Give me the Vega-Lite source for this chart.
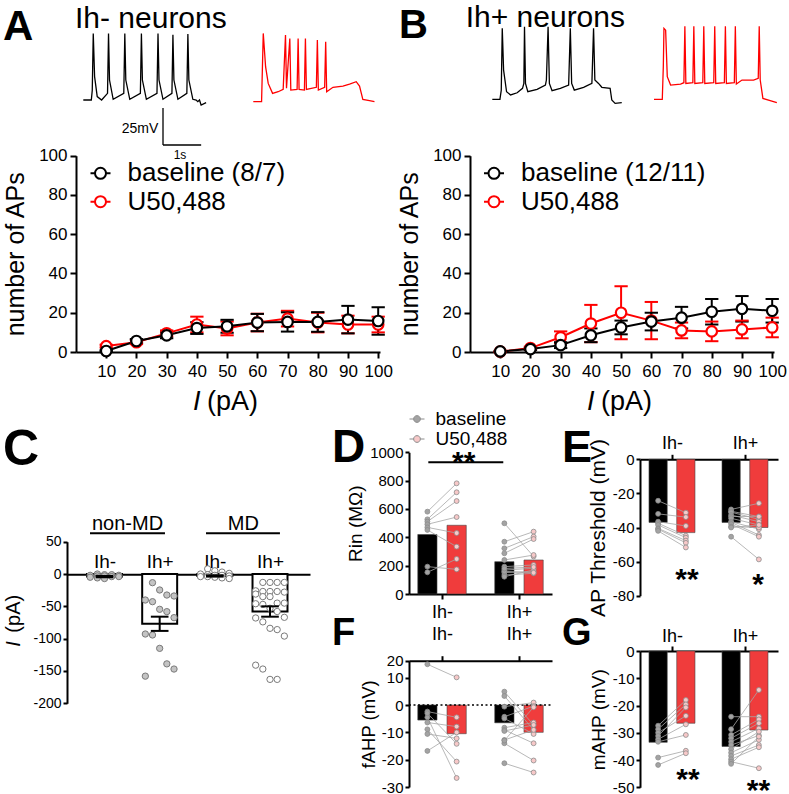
{
"$schema":"https://vega.github.io/schema/vega-lite/v6.json",
"width":789,"height":794,"autosize":{"type":"none"},"padding":0,"background":"white",
"config":{
 "font":"Liberation Sans",
 "view":{"stroke":null},
 "axis":{"grid":false,"domainColor":"black","tickColor":"black","labelColor":"black","titleColor":"black","domainWidth":2,"tickWidth":2,"labelFont":"Liberation Sans","titleFont":"Liberation Sans","titleFontWeight":"normal","labelFlush":false,"labelOverlap":false},
 "legend":{"padding":0,"labelFont":"Liberation Sans","labelColor":"black","labelLimit":400},
 "text":{"color":"black","font":"Liberation Sans"}
},
"datasets":{
 "trA0":[{"t":0,"v":-64.6},{"t":210,"v":-64.6},{"t":235,"v":-58},{"t":261,"v":-19.6},{"t":296,"v":-48.8},{"t":365,"v":-62.3},{"t":480,"v":-64.6},{"t":635,"v":-60.1},{"t":661,"v":-19.6},{"t":687,"v":-51.1},{"t":783,"v":-64.1},{"t":1061,"v":-60.1},{"t":1088,"v":-19.6},{"t":1114,"v":-51.1},{"t":1218,"v":-64.1},{"t":1496,"v":-60.1},{"t":1523,"v":-19.6},{"t":1549,"v":-51.1},{"t":1653,"v":-64.1},{"t":1931,"v":-60.1},{"t":1958,"v":-19.6},{"t":1984,"v":-51.1},{"t":2088,"v":-64.1},{"t":2323,"v":-60.1},{"t":2349,"v":-20.5},{"t":2375,"v":-51.1},{"t":2480,"v":-64.1},{"t":2714,"v":-60.1},{"t":2741,"v":-20},{"t":2767,"v":-51.1},{"t":2871,"v":-64.1},{"t":2958,"v":-64.6},{"t":3001,"v":-65.7},{"t":3045,"v":-64.6},{"t":3088,"v":-68},{"t":3219,"v":-66.4}],
 "trA1":[{"t":0,"v":-65.7},{"t":217,"v":-65.7},{"t":261,"v":-19.6},{"t":322,"v":-42.1},{"t":391,"v":-53.4},{"t":505,"v":-60.1},{"t":652,"v":-59},{"t":783,"v":-57.4},{"t":844,"v":-20.7},{"t":870,"v":-56.7},{"t":957,"v":-23},{"t":983,"v":-57.9},{"t":1148,"v":-57.4},{"t":1175,"v":-23},{"t":1200,"v":-57.4},{"t":1340,"v":-57.9},{"t":1366,"v":-23},{"t":1392,"v":-57.4},{"t":1653,"v":-56},{"t":1679,"v":-24.1},{"t":1705,"v":-57.9},{"t":1870,"v":-56},{"t":1897,"v":-25.2},{"t":1923,"v":-59},{"t":2088,"v":-56},{"t":2349,"v":-55.2},{"t":2523,"v":-53.8},{"t":2697,"v":-52.2},{"t":2784,"v":-55.2},{"t":2871,"v":-64.2},{"t":3045,"v":-65},{"t":3176,"v":-65.7}],
 "trB0":[{"t":0,"v":-64.2},{"t":200,"v":-64.2},{"t":235,"v":-57.9},{"t":261,"v":-16.2},{"t":296,"v":-44.4},{"t":374,"v":-59},{"t":479,"v":-61.2},{"t":652,"v":-59.7},{"t":792,"v":-56.7},{"t":827,"v":-53.4},{"t":844,"v":-15.1},{"t":870,"v":-53.4},{"t":931,"v":-59},{"t":1174,"v":-57.4},{"t":1392,"v":-54.5},{"t":1418,"v":-51.1},{"t":1462,"v":-15.1},{"t":1496,"v":-53.4},{"t":1566,"v":-58.3},{"t":1784,"v":-56.7},{"t":2001,"v":-54.5},{"t":2045,"v":-16.2},{"t":2080,"v":-53.4},{"t":2149,"v":-57.9},{"t":2393,"v":-56},{"t":2610,"v":-53.4},{"t":2654,"v":-16.2},{"t":2688,"v":-51.1},{"t":2784,"v":-53.4},{"t":2871,"v":-56},{"t":3088,"v":-56.7},{"t":3132,"v":-64.6},{"t":3219,"v":-66.9},{"t":3393,"v":-66.4}],
 "trB1":[{"t":0,"v":-64.2},{"t":217,"v":-64.2},{"t":244,"v":-42.1},{"t":261,"v":-16.2},{"t":305,"v":-17.4},{"t":348,"v":-48.8},{"t":435,"v":-54.5},{"t":696,"v":-53.8},{"t":783,"v":-52.9},{"t":809,"v":-14.7},{"t":835,"v":-53.4},{"t":1018,"v":-52.9},{"t":1044,"v":-14.7},{"t":1070,"v":-53.4},{"t":1279,"v":-52.9},{"t":1305,"v":-14.7},{"t":1331,"v":-53.4},{"t":1566,"v":-52.9},{"t":1592,"v":-14.7},{"t":1618,"v":-53.4},{"t":1844,"v":-52.9},{"t":1871,"v":-14.7},{"t":1897,"v":-53.4},{"t":2105,"v":-52.9},{"t":2132,"v":-14.7},{"t":2158,"v":-53.8},{"t":2306,"v":-51.1},{"t":2610,"v":-51.1},{"t":2732,"v":-50},{"t":2758,"v":-14.7},{"t":2784,"v":-51.1},{"t":2854,"v":-63.5},{"t":3045,"v":-65},{"t":3219,"v":-66.4}],
 "apA":[{"I":10,"cond":"U50,488","m":3,"s":0.7},{"I":20,"cond":"U50,488","m":5,"s":1},{"I":30,"cond":"U50,488","m":9.5,"s":1.5},{"I":40,"cond":"U50,488","m":14,"s":4},{"I":50,"cond":"U50,488","m":12,"s":3.5},{"I":60,"cond":"U50,488","m":15,"s":4.5},{"I":70,"cond":"U50,488","m":17,"s":4},{"I":80,"cond":"U50,488","m":15,"s":5},{"I":90,"cond":"U50,488","m":14,"s":4.5},{"I":100,"cond":"U50,488","m":14,"s":4},
  {"I":10,"cond":"baseline","m":0.5,"s":0.4},{"I":20,"cond":"baseline","m":5.6,"s":1},{"I":30,"cond":"baseline","m":8.5,"s":1.5},{"I":40,"cond":"baseline","m":12.2,"s":3},{"I":50,"cond":"baseline","m":13.1,"s":3.3},{"I":60,"cond":"baseline","m":15,"s":4.4},{"I":70,"cond":"baseline","m":15.3,"s":4.9},{"I":80,"cond":"baseline","m":15.3,"s":5},{"I":90,"cond":"baseline","m":16.5,"s":7},{"I":100,"cond":"baseline","m":15.8,"s":7}],
 "apB":[{"I":10,"cond":"U50,488","m":0.2,"s":0.2},{"I":20,"cond":"U50,488","m":2,"s":0.7},{"I":30,"cond":"U50,488","m":7.5,"s":3},{"I":40,"cond":"U50,488","m":14.5,"s":9.5},{"I":50,"cond":"U50,488","m":20,"s":13.5},{"I":60,"cond":"U50,488","m":16,"s":9.5},{"I":70,"cond":"U50,488","m":11,"s":4},{"I":80,"cond":"U50,488","m":10.5,"s":5},{"I":90,"cond":"U50,488","m":11.5,"s":4.5},{"I":100,"cond":"U50,488","m":12.5,"s":5},
  {"I":10,"cond":"baseline","m":0.3,"s":0.3},{"I":20,"cond":"baseline","m":1.5,"s":0.5},{"I":30,"cond":"baseline","m":3.5,"s":1.5},{"I":40,"cond":"baseline","m":8.5,"s":3.5},{"I":50,"cond":"baseline","m":12.5,"s":3.5},{"I":60,"cond":"baseline","m":15.5,"s":4.5},{"I":70,"cond":"baseline","m":17.5,"s":5.5},{"I":80,"cond":"baseline","m":20.5,"s":6.5},{"I":90,"cond":"baseline","m":22,"s":6.5},{"I":100,"cond":"baseline","m":21,"s":6}],
 "cbar":[{"g":1,"m":-4,"s":1},{"g":2,"m":-77,"s":11},{"g":3,"m":-3,"s":1},{"g":4,"m":-58,"s":8}],
 "cpts":[{"g":1,"v":0},{"g":1,"v":-1},{"g":1,"v":-1},{"g":1,"v":-2},{"g":1,"v":-2},{"g":1,"v":-3},{"g":1,"v":-3},{"g":1,"v":-4},{"g":1,"v":-4},{"g":1,"v":-5},{"g":1,"v":-6},{"g":1,"v":-7},
  {"g":2,"v":-13.4},{"g":2,"v":-24.7},{"g":2,"v":-32.5},{"g":2,"v":-34},{"g":2,"v":-40.2},{"g":2,"v":-42.8},{"g":2,"v":-54.6},{"g":2,"v":-58.2},{"g":2,"v":-67.5},{"g":2,"v":-92.8},{"g":2,"v":-94.3},{"g":2,"v":-115},{"g":2,"v":-139},{"g":2,"v":-147},{"g":2,"v":-158},
  {"g":3,"v":8},{"g":3,"v":5},{"g":3,"v":3},{"g":3,"v":1},{"g":3,"v":0},{"g":3,"v":-1},{"g":3,"v":-2},{"g":3,"v":-2},{"g":3,"v":-3},{"g":3,"v":-4},{"g":3,"v":-4},{"g":3,"v":-5},{"g":3,"v":-6},{"g":3,"v":-7},
  {"g":4,"v":-13},{"g":4,"v":-13},{"g":4,"v":-13},{"g":4,"v":-13},{"g":4,"v":-26},{"g":4,"v":-27},{"g":4,"v":-27},{"g":4,"v":-27},{"g":4,"v":-28},{"g":4,"v":-31},{"g":4,"v":-35},{"g":4,"v":-35},{"g":4,"v":-45},{"g":4,"v":-45},{"g":4,"v":-46},{"g":4,"v":-47},{"g":4,"v":-53},{"g":4,"v":-58},{"g":4,"v":-67},{"g":4,"v":-68},{"g":4,"v":-74},{"g":4,"v":-84},{"g":4,"v":-86},{"g":4,"v":-96},{"g":4,"v":-141},{"g":4,"v":-147},{"g":4,"v":-163},{"g":4,"v":-163}],
 "pbar":[{"p":"D","g":1,"b":420,"u":485},{"p":"D","g":2,"b":228,"u":240},{"p":"E","g":1,"b":-37,"u":-43},{"p":"E","g":2,"b":-37,"u":-40},{"p":"F","g":1,"b":-5.5,"u":-10.5},{"p":"F","g":2,"b":-6.5,"u":-10},{"p":"G","g":1,"b":-33.5,"u":-26.5},{"p":"G","g":2,"b":-35,"u":-29}],
 "pair":[
  {"p":"D","g":1,"c":1,"b":581,"u":781},{"p":"D","g":1,"c":2,"b":527,"u":718},{"p":"D","g":1,"c":3,"b":511,"u":656},{"p":"D","g":1,"c":4,"b":492,"u":543},{"p":"D","g":1,"c":5,"b":470,"u":430},{"p":"D","g":1,"c":6,"b":452,"u":334},{"p":"D","g":1,"c":7,"b":193,"u":174},{"p":"D","g":1,"c":8,"b":153,"u":247},
  {"p":"D","g":2,"c":1,"b":499,"u":265},{"p":"D","g":2,"c":2,"b":369,"u":440},{"p":"D","g":2,"c":3,"b":322,"u":405},{"p":"D","g":2,"c":4,"b":287,"u":388},{"p":"D","g":2,"c":5,"b":240,"u":275},{"p":"D","g":2,"c":6,"b":193,"u":205},{"p":"D","g":2,"c":7,"b":169,"u":181},{"p":"D","g":2,"c":8,"b":151,"u":158},{"p":"D","g":2,"c":9,"b":134,"u":146},{"p":"D","g":2,"c":10,"b":122,"u":170},{"p":"D","g":2,"c":11,"b":160,"u":150},{"p":"D","g":2,"c":12,"b":180,"u":190},
  {"p":"E","g":1,"c":1,"b":-24.3,"u":-31.3},{"p":"E","g":1,"c":2,"b":-32,"u":-33.9},{"p":"E","g":1,"c":3,"b":-36.6,"u":-39.1},{"p":"E","g":1,"c":4,"b":-37.5,"u":-44.8},{"p":"E","g":1,"c":5,"b":-38.5,"u":-46},{"p":"E","g":1,"c":6,"b":-40.5,"u":-47.7},{"p":"E","g":1,"c":7,"b":-41,"u":-49},{"p":"E","g":1,"c":8,"b":-42,"u":-51.7},
  {"p":"E","g":2,"c":1,"b":-29.4,"u":-25.8},{"p":"E","g":2,"c":2,"b":-30.5,"u":-33.6},{"p":"E","g":2,"c":3,"b":-31,"u":-35.2},{"p":"E","g":2,"c":4,"b":-32.7,"u":-36.6},{"p":"E","g":2,"c":5,"b":-33.5,"u":-33.6},{"p":"E","g":2,"c":6,"b":-34.6,"u":-38.5},{"p":"E","g":2,"c":7,"b":-36.6,"u":-41},{"p":"E","g":2,"c":8,"b":-37,"u":-44.4},{"p":"E","g":2,"c":9,"b":-38,"u":-45.4},{"p":"E","g":2,"c":10,"b":-39.5,"u":-40},{"p":"E","g":2,"c":11,"b":-40,"u":-38.5},{"p":"E","g":2,"c":12,"b":-45.4,"u":-58.7},
  {"p":"F","g":1,"c":1,"b":17.9,"u":10.2},{"p":"F","g":1,"c":2,"b":-2.4,"u":-4.5},{"p":"F","g":1,"c":3,"b":-4.5,"u":-26.7},{"p":"F","g":1,"c":4,"b":-6.4,"u":-7.9},{"p":"F","g":1,"c":5,"b":-8.9,"u":-20.7},{"p":"F","g":1,"c":6,"b":-10.6,"u":-12.2},{"p":"F","g":1,"c":7,"b":-16.8,"u":-10},{"p":"F","g":1,"c":8,"b":-3,"u":-14.2},
  {"p":"F","g":2,"c":1,"b":4.9,"u":-7.3},{"p":"F","g":2,"c":2,"b":3.3,"u":-9.1},{"p":"F","g":2,"c":3,"b":-0.6,"u":0.9},{"p":"F","g":2,"c":4,"b":-4.3,"u":-0.4},{"p":"F","g":2,"c":5,"b":-4.9,"u":-10.6},{"p":"F","g":2,"c":6,"b":-8.3,"u":-6.4},{"p":"F","g":2,"c":7,"b":-9.1,"u":-14},{"p":"F","g":2,"c":8,"b":-12.8,"u":-9.1},{"p":"F","g":2,"c":9,"b":-14,"u":-20.3},{"p":"F","g":2,"c":10,"b":-21.3,"u":-24.7},{"p":"F","g":2,"c":11,"b":-13,"u":-0.8},{"p":"F","g":2,"c":12,"b":-9.5,"u":-7.3},
  {"p":"G","g":1,"c":1,"b":-27.4,"u":-18},{"p":"G","g":1,"c":2,"b":-28.7,"u":-19.6},{"p":"G","g":1,"c":3,"b":-30,"u":-23.8},{"p":"G","g":1,"c":4,"b":-31.2,"u":-20.7},{"p":"G","g":1,"c":5,"b":-32.4,"u":-26.9},{"p":"G","g":1,"c":6,"b":-33.3,"u":-30.8},{"p":"G","g":1,"c":7,"b":-39.1,"u":-36.6},{"p":"G","g":1,"c":8,"b":-41.8,"u":-37.5},
  {"p":"G","g":2,"c":1,"b":-24.1,"u":-24.1},{"p":"G","g":2,"c":2,"b":-28.7,"u":-14.3},{"p":"G","g":2,"c":3,"b":-30.8,"u":-25.1},{"p":"G","g":2,"c":4,"b":-32,"u":-26.5},{"p":"G","g":2,"c":5,"b":-33.3,"u":-28.4},{"p":"G","g":2,"c":6,"b":-34.5,"u":-31},{"p":"G","g":2,"c":7,"b":-36,"u":-29.6},{"p":"G","g":2,"c":8,"b":-37.3,"u":-32.6},{"p":"G","g":2,"c":9,"b":-38.5,"u":-34.5},{"p":"G","g":2,"c":10,"b":-39.7,"u":-35.3},{"p":"G","g":2,"c":11,"b":-40.6,"u":-43},{"p":"G","g":2,"c":12,"b":-41.4,"u":-31.4}]
},
"resolve":{"scale":{"x":"independent","y":"independent","color":"independent","fill":"independent"},"axis":{"x":"independent","y":"independent"},"legend":{"color":"independent","fill":"independent"}},
"layer":[
 {"layer":[
  {"data":{"name":"trA0"},"mark":{"type":"line","color":"black","strokeWidth":1.3},"encoding":{"x":{"field":"t","type":"quantitative","scale":{"domain":[0,3250],"range":[83.3,207.3],"nice":false,"zero":false},"axis":null},"y":{"field":"v","type":"quantitative","scale":{"domain":[-70,-20],"range":[108,34],"nice":false,"zero":false},"axis":null}}},
  {"data":{"values":[{}]},"mark":{"type":"rule","color":"black","strokeWidth":1.3},"encoding":{"x":{"datum":2089,"type":"quantitative","axis":null},"y":{"datum":-70,"type":"quantitative","axis":null},"y2":{"datum":-95}}},
  {"data":{"values":[{}]},"mark":{"type":"rule","color":"black","strokeWidth":1.3},"encoding":{"x":{"datum":2089,"type":"quantitative","axis":null},"x2":{"datum":3089},"y":{"datum":-95,"type":"quantitative","axis":null}}},
  {"data":{"values":[{}]},"mark":{"type":"text","text":"A","fontSize":42,"fontWeight":"bold","align":"left","baseline":"alphabetic"},"encoding":{"x":{"datum":-2105,"type":"quantitative","axis":null},"y":{"datum":-24.1,"type":"quantitative","axis":null}}},
  {"data":{"values":[{}]},"mark":{"type":"text","text":"Ih- neurons","fontSize":30,"align":"left","baseline":"alphabetic"},"encoding":{"x":{"datum":-218,"type":"quantitative","axis":null},"y":{"datum":-15.95,"type":"quantitative","axis":null}}},
  {"data":{"values":[{}]},"mark":{"type":"text","text":"25mV","fontSize":14,"align":"right","baseline":"alphabetic"},"encoding":{"x":{"datum":1966,"type":"quantitative","axis":null},"y":{"datum":-86.9,"type":"quantitative","axis":null}}},
  {"data":{"values":[{}]},"mark":{"type":"text","text":"1s","fontSize":12,"align":"center","baseline":"alphabetic"},"encoding":{"x":{"datum":2535,"type":"quantitative","axis":null},"y":{"datum":-104.5,"type":"quantitative","axis":null}}}
 ]},
 {"data":{"name":"trA1"},"mark":{"type":"line","color":"#ff0000","strokeWidth":1.3},"encoding":{"x":{"field":"t","type":"quantitative","scale":{"domain":[0,3250],"range":[253.3,377.3],"nice":false,"zero":false},"axis":null},"y":{"field":"v","type":"quantitative","scale":{"domain":[-70,-20],"range":[108,34],"nice":false,"zero":false},"axis":null}}},
 {"layer":[
  {"data":{"name":"trB0"},"mark":{"type":"line","color":"black","strokeWidth":1.3},"encoding":{"x":{"field":"t","type":"quantitative","scale":{"domain":[0,3250],"range":[492.3,616.3],"nice":false,"zero":false},"axis":null},"y":{"field":"v","type":"quantitative","scale":{"domain":[-70,-20],"range":[108,34],"nice":false,"zero":false},"axis":null}}},
  {"data":{"values":[{}]},"mark":{"type":"text","text":"B","fontSize":40,"fontWeight":"bold","align":"left","baseline":"alphabetic"},"encoding":{"x":{"datum":-2446,"type":"quantitative","axis":null},"y":{"datum":-22.7,"type":"quantitative","axis":null}}},
  {"data":{"values":[{}]},"mark":{"type":"text","text":"Ih+ neurons","fontSize":30,"align":"left","baseline":"alphabetic"},"encoding":{"x":{"datum":-697,"type":"quantitative","axis":null},"y":{"datum":-15.3,"type":"quantitative","axis":null}}}
 ]},
 {"data":{"name":"trB1"},"mark":{"type":"line","color":"#ff0000","strokeWidth":1.3},"encoding":{"x":{"field":"t","type":"quantitative","scale":{"domain":[0,3250],"range":[654,778],"nice":false,"zero":false},"axis":null},"y":{"field":"v","type":"quantitative","scale":{"domain":[-70,-20],"range":[108,34],"nice":false,"zero":false},"axis":null}}},
 {"layer":[
  {"data":{"name":"apA"},"transform":[{"calculate":"datum.m - datum.s","as":"lo"},{"calculate":"datum.m + datum.s","as":"hi"}],"mark":{"type":"rule","strokeWidth":2},"encoding":{
    "x":{"field":"I","type":"quantitative","scale":{"domain":[0,100.6],"range":[76,380],"nice":false,"zero":false},"axis":{"orient":"bottom","offset":-442,"values":[10,20,30,40,50,60,70,80,90,100],"title":null,"labelFontSize":17,"tickSize":6,"labelPadding":5}},
    "y":{"field":"lo","type":"quantitative","scale":{"domain":[0,100],"range":[352,155.7],"nice":false,"zero":false},"axis":{"orient":"left","offset":-76,"values":[0,20,40,60,80,100],"title":"number of APs","titleFontSize":25,"titlePadding":10,"labelFontSize":17,"tickSize":6,"labelPadding":3}},
    "y2":{"field":"hi"},
    "color":{"field":"cond","type":"nominal","scale":{"domain":["baseline","U50,488"],"range":["black","#ff0000"]}}}},
  {"data":{"name":"apA"},"transform":[{"calculate":"datum.m - datum.s","as":"lo"},{"calculate":"datum.I - 2.2","as":"ca"},{"calculate":"datum.I + 2.2","as":"cb"}],"mark":{"type":"rule","strokeWidth":2},"encoding":{"x":{"field":"ca","type":"quantitative"},"x2":{"field":"cb"},"y":{"field":"lo","type":"quantitative"},"color":{"field":"cond","type":"nominal"}}},
  {"data":{"name":"apA"},"transform":[{"calculate":"datum.m + datum.s","as":"hi"},{"calculate":"datum.I - 2.2","as":"ca"},{"calculate":"datum.I + 2.2","as":"cb"}],"mark":{"type":"rule","strokeWidth":2},"encoding":{"x":{"field":"ca","type":"quantitative"},"x2":{"field":"cb"},"y":{"field":"hi","type":"quantitative"},"color":{"field":"cond","type":"nominal"}}},
  {"data":{"name":"apA"},"mark":{"type":"line","strokeWidth":2},"encoding":{"x":{"field":"I","type":"quantitative"},"y":{"field":"m","type":"quantitative"},"color":{"field":"cond","type":"nominal"}}},
  {"data":{"name":"apA"},"mark":{"type":"point","shape":"circle","filled":false,"fill":"white","size":110,"strokeWidth":2.2,"opacity":1},"encoding":{"x":{"field":"I","type":"quantitative"},"y":{"field":"m","type":"quantitative"},"color":{"field":"cond","type":"nominal","legend":{"orient":"none","legendX":87.5,"legendY":160.3,"title":null,"labelFontSize":26,"labelExpr":"datum.label == 'baseline' ? 'baseline (8/7)' : datum.label","symbolType":"M-1,0L-0.55,0M0.55,0L1,0M-0.55,0A0.55,0.55,0,1,1,0.55,0A0.55,0.55,0,1,1,-0.55,0Z","symbolSize":400,"symbolStrokeWidth":2,"symbolFillColor":"white","labelOffset":14,"rowPadding":2.4}}}},
  {"data":{"values":[{}]},"mark":{"type":"text","text":"I","fontSize":27,"fontStyle":"italic","align":"left","baseline":"alphabetic"},"encoding":{"x":{"datum":38.7,"type":"quantitative"},"y":{"datum":-29.4,"type":"quantitative"}}},
  {"data":{"values":[{}]},"mark":{"type":"text","text":"(pA)","fontSize":27,"align":"left","baseline":"alphabetic"},"encoding":{"x":{"datum":43.35,"type":"quantitative"},"y":{"datum":-29.4,"type":"quantitative"}}}
 ]},
 {"layer":[
  {"data":{"name":"apB"},"transform":[{"calculate":"datum.m - datum.s","as":"lo"},{"calculate":"datum.m + datum.s","as":"hi"}],"mark":{"type":"rule","strokeWidth":2},"encoding":{
    "x":{"field":"I","type":"quantitative","scale":{"domain":[0,100.6],"range":[470,774],"nice":false,"zero":false},"axis":{"orient":"bottom","offset":-442,"values":[10,20,30,40,50,60,70,80,90,100],"title":null,"labelFontSize":17,"tickSize":6,"labelPadding":5}},
    "y":{"field":"lo","type":"quantitative","scale":{"domain":[0,100],"range":[352,155.7],"nice":false,"zero":false},"axis":{"orient":"left","offset":-470,"values":[0,20,40,60,80,100],"title":"number of APs","titleFontSize":25,"titlePadding":10,"labelFontSize":17,"tickSize":6,"labelPadding":3}},
    "y2":{"field":"hi"},
    "color":{"field":"cond","type":"nominal","scale":{"domain":["baseline","U50,488"],"range":["black","#ff0000"]}}}},
  {"data":{"name":"apB"},"transform":[{"calculate":"datum.m - datum.s","as":"lo"},{"calculate":"datum.I - 2.2","as":"ca"},{"calculate":"datum.I + 2.2","as":"cb"}],"mark":{"type":"rule","strokeWidth":2},"encoding":{"x":{"field":"ca","type":"quantitative"},"x2":{"field":"cb"},"y":{"field":"lo","type":"quantitative"},"color":{"field":"cond","type":"nominal"}}},
  {"data":{"name":"apB"},"transform":[{"calculate":"datum.m + datum.s","as":"hi"},{"calculate":"datum.I - 2.2","as":"ca"},{"calculate":"datum.I + 2.2","as":"cb"}],"mark":{"type":"rule","strokeWidth":2},"encoding":{"x":{"field":"ca","type":"quantitative"},"x2":{"field":"cb"},"y":{"field":"hi","type":"quantitative"},"color":{"field":"cond","type":"nominal"}}},
  {"data":{"name":"apB"},"mark":{"type":"line","strokeWidth":2},"encoding":{"x":{"field":"I","type":"quantitative"},"y":{"field":"m","type":"quantitative"},"color":{"field":"cond","type":"nominal"}}},
  {"data":{"name":"apB"},"mark":{"type":"point","shape":"circle","filled":false,"fill":"white","size":110,"strokeWidth":2.2,"opacity":1},"encoding":{"x":{"field":"I","type":"quantitative"},"y":{"field":"m","type":"quantitative"},"color":{"field":"cond","type":"nominal","legend":{"orient":"none","legendX":481,"legendY":160.3,"title":null,"labelFontSize":26,"labelExpr":"datum.label == 'baseline' ? 'baseline (12/11)' : datum.label","symbolType":"M-1,0L-0.55,0M0.55,0L1,0M-0.55,0A0.55,0.55,0,1,1,0.55,0A0.55,0.55,0,1,1,-0.55,0Z","symbolSize":400,"symbolStrokeWidth":2,"symbolFillColor":"white","labelOffset":14,"rowPadding":2.4}}}},
  {"data":{"values":[{}]},"mark":{"type":"text","text":"I","fontSize":27,"fontStyle":"italic","align":"left","baseline":"alphabetic"},"encoding":{"x":{"datum":38.7,"type":"quantitative"},"y":{"datum":-29.4,"type":"quantitative"}}},
  {"data":{"values":[{}]},"mark":{"type":"text","text":"(pA)","fontSize":27,"align":"left","baseline":"alphabetic"},"encoding":{"x":{"datum":43.35,"type":"quantitative"},"y":{"datum":-29.4,"type":"quantitative"}}}
 ]},
 {"layer":[
  {"data":{"name":"cbar"},"transform":[{"calculate":"datum.g - 0.317","as":"xa"},{"calculate":"datum.g + 0.317","as":"xb"}],"mark":{"type":"rect","fill":"white","stroke":"black","strokeWidth":2},"encoding":{
    "x":{"field":"xa","type":"quantitative","scale":{"domain":[0.32,4.725],"range":[67,310],"nice":false,"zero":false},"axis":{"orient":"top","offset":-574.2,"ticks":false,"values":[1,2,3,4],"labelExpr":"(datum.value == 1 || datum.value == 3) ? 'Ih-' : 'Ih+'","title":null,"labelFontSize":19,"labelPadding":3}},
    "x2":{"field":"xb"},
    "y":{"field":"m","type":"quantitative","scale":{"domain":[-200,50],"range":[703.3,541.7],"nice":false,"zero":false},"axis":{"orient":"left","offset":-67,"values":[50,0,-50,-100,-150,-200],"labelExpr":"'' + datum.value","title":null,"labelFontSize":14,"tickSize":4,"labelPadding":2}},
    "y2":{"datum":0}}},
  {"data":{"name":"cpts"},"transform":[{"window":[{"op":"row_number","as":"rn"}],"groupby":["g"]},{"calculate":"datum.g + ((datum.rn % 5) - 2) * 0.13","as":"xj"}],"mark":{"type":"point","shape":"circle","filled":true,"size":40,"stroke":"#7a7a7a","strokeWidth":1,"opacity":1},"encoding":{"x":{"field":"xj","type":"quantitative"},"y":{"field":"v","type":"quantitative"},"fill":{"condition":{"test":"datum.g <= 2","value":"#c4c4c4"},"value":"white"}}},
  {"data":{"name":"cbar"},"transform":[{"calculate":"datum.m - datum.s","as":"lo"},{"calculate":"datum.m + datum.s","as":"hi"}],"mark":{"type":"rule","color":"black","strokeWidth":2},"encoding":{"x":{"field":"g","type":"quantitative"},"y":{"field":"lo","type":"quantitative"},"y2":{"field":"hi"}}},
  {"data":{"name":"cbar"},"transform":[{"calculate":"datum.m - datum.s","as":"lo"},{"calculate":"datum.g - 0.16","as":"ca"},{"calculate":"datum.g + 0.16","as":"cb"}],"mark":{"type":"rule","color":"black","strokeWidth":2},"encoding":{"x":{"field":"ca","type":"quantitative"},"x2":{"field":"cb"},"y":{"field":"lo","type":"quantitative"}}},
  {"data":{"name":"cbar"},"transform":[{"calculate":"datum.m + datum.s","as":"hi"},{"calculate":"datum.g - 0.16","as":"ca"},{"calculate":"datum.g + 0.16","as":"cb"}],"mark":{"type":"rule","color":"black","strokeWidth":2},"encoding":{"x":{"field":"ca","type":"quantitative"},"x2":{"field":"cb"},"y":{"field":"hi","type":"quantitative"}}},
  {"data":{"values":[{}]},"mark":{"type":"text","text":"C","fontSize":50,"fontWeight":"bold","align":"left","baseline":"alphabetic"},"encoding":{"x":{"datum":-0.84,"type":"quantitative"},"y":{"datum":168.9,"type":"quantitative"}}},
  {"data":{"values":[{}]},"mark":{"type":"text","text":"I","fontSize":20,"fontStyle":"italic","angle":270,"align":"left","baseline":"alphabetic"},"encoding":{"x":{"datum":-0.532,"type":"quantitative"},"y":{"datum":-112.6,"type":"quantitative"}}},
  {"data":{"values":[{}]},"mark":{"type":"text","text":"(pA)","fontSize":20,"angle":270,"align":"right","baseline":"alphabetic"},"encoding":{"x":{"datum":-0.532,"type":"quantitative"},"y":{"datum":-32.2,"type":"quantitative"}}},
  {"data":{"values":[{}]},"mark":{"type":"text","text":"non-MD","fontSize":20,"align":"center","baseline":"alphabetic"},"encoding":{"x":{"datum":1.417,"type":"quantitative"},"y":{"datum":68.3,"type":"quantitative"}}},
  {"data":{"values":[{}]},"mark":{"type":"text","text":"MD","fontSize":20,"align":"center","baseline":"alphabetic"},"encoding":{"x":{"datum":3.516,"type":"quantitative"},"y":{"datum":68.3,"type":"quantitative"}}},
  {"data":{"values":[{}]},"mark":{"type":"rule","color":"black","strokeWidth":2},"encoding":{"x":{"datum":0.737,"type":"quantitative"},"x2":{"datum":2.096},"y":{"datum":63.2,"type":"quantitative"}}},
  {"data":{"values":[{}]},"mark":{"type":"rule","color":"black","strokeWidth":2},"encoding":{"x":{"datum":2.84,"type":"quantitative"},"x2":{"datum":4.18},"y":{"datum":63.2,"type":"quantitative"}}}
 ]},
 {"layer":[
  {"data":{"name":"pbar"},"transform":[{"filter":"datum.p == 'D'"},{"fold":["b","u"],"as":["k","m"]},{"calculate":"datum.g + (datum.k == 'b' ? -0.19 : 0.19)","as":"xp"},{"calculate":"datum.xp - 0.125","as":"xa"},{"calculate":"datum.xp + 0.125","as":"xb"}],"mark":{"type":"rect","stroke":"#444444","strokeWidth":0.6},"encoding":{
    "x":{"field":"xa","type":"quantitative","scale":{"domain":[0.571,2.429],"range":[409,552],"nice":false,"zero":false},"axis":{"orient":"bottom","offset":-200,"values":[1,2],"labelExpr":"datum.value == 1 ? 'Ih-' : 'Ih+'","title":null,"labelFontSize":18,"tickSize":5,"labelPadding":4}},
    "x2":{"field":"xb"},
    "y":{"field":"m","type":"quantitative","scale":{"domain":[0,1000],"range":[594,452.3],"nice":false,"zero":false},"axis":{"orient":"left","offset":-409,"values":[0,200,400,600,800,1000],"labelExpr":"'' + datum.value","title":"Rin (MΩ)","titleFontSize":19,"titlePadding":4,"labelFontSize":15,"tickSize":4,"labelPadding":2}},
    "y2":{"datum":0},
    "fill":{"condition":{"test":"datum.k == 'b'","value":"black"},"value":"#f03c3c"}}},
  {"data":{"name":"pair"},"transform":[{"filter":"datum.p == 'D'"},{"fold":["b","u"],"as":["k","v"]},{"calculate":"datum.g + (datum.k == 'b' ? -0.19 : 0.19)","as":"xp"}],"mark":{"type":"line","stroke":"#a6a6a6","strokeWidth":0.8},"encoding":{"x":{"field":"xp","type":"quantitative"},"y":{"field":"v","type":"quantitative"},"detail":[{"field":"g"},{"field":"c"}]}},
  {"data":{"name":"pair"},"transform":[{"filter":"datum.p == 'D'"},{"fold":["b","u"],"as":["k","v"]},{"calculate":"datum.g + (datum.k == 'b' ? -0.19 : 0.19)","as":"xp"}],"mark":{"type":"point","shape":"circle","filled":true,"size":24,"stroke":"#8c8c8c","strokeWidth":0.8,"opacity":1},"encoding":{"x":{"field":"xp","type":"quantitative"},"y":{"field":"v","type":"quantitative"},"fill":{"field":"k","type":"nominal","scale":{"domain":["b","u"],"range":["#a3a3a3","#f7c8c8"]},"legend":{"orient":"none","legendX":407.5,"legendY":409.5,"title":null,"labelFontSize":19,"labelExpr":"datum.label == 'b' ? 'baseline' : 'U50,488'","symbolType":"M-1,0L-0.45,0M0.45,0L1,0M-0.45,0A0.45,0.45,0,1,1,0.45,0A0.45,0.45,0,1,1,-0.45,0Z","symbolSize":225,"symbolStrokeColor":"#8c8c8c","symbolStrokeWidth":1,"labelOffset":9,"rowPadding":-1}}}},
  {"data":{"values":[{}]},"mark":{"type":"text","text":"D","fontSize":46,"fontWeight":"bold","align":"left","baseline":"alphabetic"},"encoding":{"x":{"datum":-0.429,"type":"quantitative"},"y":{"datum":933.7,"type":"quantitative"}}},
  {"data":{"values":[{}]},"mark":{"type":"text","text":"F","fontSize":38,"fontWeight":"bold","align":"left","baseline":"alphabetic"},"encoding":{"x":{"datum":-0.429,"type":"quantitative"},"y":{"datum":-360,"type":"quantitative"}}},
  {"data":{"values":[{}]},"mark":{"type":"text","text":"**","fontSize":30,"fontWeight":"bold","align":"center","baseline":"alphabetic"},"encoding":{"x":{"datum":1.281,"type":"quantitative"},"y":{"datum":858,"type":"quantitative"}}},
  {"data":{"values":[{}]},"mark":{"type":"rule","color":"black","strokeWidth":2},"encoding":{"x":{"datum":0.822,"type":"quantitative"},"x2":{"datum":1.796},"y":{"datum":929,"type":"quantitative"}}}
 ]},
 {"layer":[
  {"data":{"name":"pbar"},"transform":[{"filter":"datum.p == 'F'"},{"fold":["b","u"],"as":["k","m"]},{"calculate":"datum.g + (datum.k == 'b' ? -0.19 : 0.19)","as":"xp"},{"calculate":"datum.xp - 0.125","as":"xa"},{"calculate":"datum.xp + 0.125","as":"xb"}],"mark":{"type":"rect","stroke":"#444444","strokeWidth":0.6},"encoding":{
    "x":{"field":"xa","type":"quantitative","scale":{"domain":[0.571,2.429],"range":[409,552],"nice":false,"zero":false},"axis":{"orient":"top","offset":-660.7,"values":[1,2],"labelExpr":"datum.value == 1 ? 'Ih-' : 'Ih+'","title":null,"labelFontSize":18,"tickSize":5,"labelPadding":12}},
    "x2":{"field":"xb"},
    "y":{"field":"m","type":"quantitative","scale":{"domain":[-30,10,20],"range":[787,677.7,660.7],"nice":false,"zero":false},"axis":{"orient":"left","offset":-409,"values":[20,10,0,-10,-20,-30],"labelExpr":"'' + datum.value","title":"fAHP (mV)","titleFontSize":18.5,"titlePadding":3,"labelFontSize":15,"tickSize":4,"labelPadding":2}},
    "y2":{"datum":0},
    "fill":{"condition":{"test":"datum.k == 'b'","value":"black"},"value":"#f03c3c"}}},
  {"data":{"values":[{}]},"mark":{"type":"rule","color":"black","strokeWidth":1.5,"strokeDash":[2,2.5]},"encoding":{"x":{"datum":0.571,"type":"quantitative"},"x2":{"datum":2.429},"y":{"datum":0,"type":"quantitative"}}},
  {"data":{"name":"pair"},"transform":[{"filter":"datum.p == 'F'"},{"fold":["b","u"],"as":["k","v"]},{"calculate":"datum.g + (datum.k == 'b' ? -0.19 : 0.19)","as":"xp"}],"mark":{"type":"line","stroke":"#a6a6a6","strokeWidth":0.8},"encoding":{"x":{"field":"xp","type":"quantitative"},"y":{"field":"v","type":"quantitative"},"detail":[{"field":"g"},{"field":"c"}]}},
  {"data":{"name":"pair"},"transform":[{"filter":"datum.p == 'F'"},{"fold":["b","u"],"as":["k","v"]},{"calculate":"datum.g + (datum.k == 'b' ? -0.19 : 0.19)","as":"xp"}],"mark":{"type":"point","shape":"circle","filled":true,"size":24,"stroke":"#8c8c8c","strokeWidth":0.8,"opacity":1},"encoding":{"x":{"field":"xp","type":"quantitative"},"y":{"field":"v","type":"quantitative"},"fill":{"field":"k","type":"nominal","scale":{"domain":["b","u"],"range":["#a3a3a3","#f7c8c8"]},"legend":null}}}
 ]},
 {"layer":[
  {"data":{"name":"pbar"},"transform":[{"filter":"datum.p == 'E'"},{"fold":["b","u"],"as":["k","m"]},{"calculate":"datum.g + (datum.k == 'b' ? -0.19 : 0.19)","as":"xp"},{"calculate":"datum.xp - 0.125","as":"xa"},{"calculate":"datum.xp + 0.125","as":"xb"}],"mark":{"type":"rect","stroke":"#444444","strokeWidth":0.6},"encoding":{
    "x":{"field":"xa","type":"quantitative","scale":{"domain":[0.562,2.452],"range":[640,778],"nice":false,"zero":false},"axis":{"orient":"top","offset":-459.3,"values":[1,2],"labelExpr":"datum.value == 1 ? 'Ih-' : 'Ih+'","title":null,"labelFontSize":18,"tickSize":5,"labelPadding":2}},
    "x2":{"field":"xb"},
    "y":{"field":"m","type":"quantitative","scale":{"domain":[-80,0],"range":[595.7,459.3],"nice":false,"zero":false},"axis":{"orient":"left","offset":-640,"values":[0,-20,-40,-60,-80],"labelExpr":"'' + datum.value","title":"AP Threshold (mV)","titleFontSize":21,"titlePadding":4,"labelFontSize":15,"tickSize":4,"labelPadding":2}},
    "y2":{"datum":0},
    "fill":{"condition":{"test":"datum.k == 'b'","value":"black"},"value":"#f03c3c"}}},
  {"data":{"name":"pair"},"transform":[{"filter":"datum.p == 'E'"},{"fold":["b","u"],"as":["k","v"]},{"calculate":"datum.g + (datum.k == 'b' ? -0.19 : 0.19)","as":"xp"}],"mark":{"type":"line","stroke":"#a6a6a6","strokeWidth":0.8},"encoding":{"x":{"field":"xp","type":"quantitative"},"y":{"field":"v","type":"quantitative"},"detail":[{"field":"g"},{"field":"c"}]}},
  {"data":{"name":"pair"},"transform":[{"filter":"datum.p == 'E'"},{"fold":["b","u"],"as":["k","v"]},{"calculate":"datum.g + (datum.k == 'b' ? -0.19 : 0.19)","as":"xp"}],"mark":{"type":"point","shape":"circle","filled":true,"size":24,"stroke":"#8c8c8c","strokeWidth":0.8,"opacity":1},"encoding":{"x":{"field":"xp","type":"quantitative"},"y":{"field":"v","type":"quantitative"},"fill":{"field":"k","type":"nominal","scale":{"domain":["b","u"],"range":["#a3a3a3","#f7c8c8"]},"legend":null}}},
  {"data":{"values":[{}]},"mark":{"type":"text","text":"E","fontSize":45,"fontWeight":"bold","align":"left","baseline":"alphabetic"},"encoding":{"x":{"datum":-0.506,"type":"quantitative"},"y":{"datum":-1.4,"type":"quantitative"}}},
  {"data":{"values":[{}]},"mark":{"type":"text","text":"G","fontSize":38,"fontWeight":"bold","align":"left","baseline":"alphabetic"},"encoding":{"x":{"datum":-0.506,"type":"quantitative"},"y":{"datum":-108.9,"type":"quantitative"}}},
  {"data":{"values":[{}]},"mark":{"type":"text","text":"**","fontSize":30,"fontWeight":"bold","align":"center","baseline":"alphabetic"},"encoding":{"x":{"datum":1.206,"type":"quantitative"},"y":{"datum":-75.8,"type":"quantitative"}}},
  {"data":{"values":[{}]},"mark":{"type":"text","text":"*","fontSize":30,"fontWeight":"bold","align":"center","baseline":"alphabetic"},"encoding":{"x":{"datum":2.178,"type":"quantitative"},"y":{"datum":-79.2,"type":"quantitative"}}}
 ]},
 {"layer":[
  {"data":{"name":"pbar"},"transform":[{"filter":"datum.p == 'G'"},{"fold":["b","u"],"as":["k","m"]},{"calculate":"datum.g + (datum.k == 'b' ? -0.19 : 0.19)","as":"xp"},{"calculate":"datum.xp - 0.125","as":"xa"},{"calculate":"datum.xp + 0.125","as":"xb"}],"mark":{"type":"rect","stroke":"#444444","strokeWidth":0.6},"encoding":{
    "x":{"field":"xa","type":"quantitative","scale":{"domain":[0.562,2.452],"range":[640,778],"nice":false,"zero":false},"axis":{"orient":"top","offset":-651,"values":[1,2],"labelExpr":"datum.value == 1 ? 'Ih-' : 'Ih+'","title":null,"labelFontSize":18,"tickSize":5,"labelPadding":1}},
    "x2":{"field":"xb"},
    "y":{"field":"m","type":"quantitative","scale":{"domain":[-50,0],"range":[787.3,651],"nice":false,"zero":false},"axis":{"orient":"left","offset":-640,"values":[0,-10,-20,-30,-40,-50],"labelExpr":"'' + datum.value","title":"mAHP (mV)","titleFontSize":19,"titlePadding":4,"labelFontSize":15,"tickSize":4,"labelPadding":2}},
    "y2":{"datum":0},
    "fill":{"condition":{"test":"datum.k == 'b'","value":"black"},"value":"#f03c3c"}}},
  {"data":{"name":"pair"},"transform":[{"filter":"datum.p == 'G'"},{"fold":["b","u"],"as":["k","v"]},{"calculate":"datum.g + (datum.k == 'b' ? -0.19 : 0.19)","as":"xp"}],"mark":{"type":"line","stroke":"#a6a6a6","strokeWidth":0.8},"encoding":{"x":{"field":"xp","type":"quantitative"},"y":{"field":"v","type":"quantitative"},"detail":[{"field":"g"},{"field":"c"}]}},
  {"data":{"name":"pair"},"transform":[{"filter":"datum.p == 'G'"},{"fold":["b","u"],"as":["k","v"]},{"calculate":"datum.g + (datum.k == 'b' ? -0.19 : 0.19)","as":"xp"}],"mark":{"type":"point","shape":"circle","filled":true,"size":24,"stroke":"#8c8c8c","strokeWidth":0.8,"opacity":1},"encoding":{"x":{"field":"xp","type":"quantitative"},"y":{"field":"v","type":"quantitative"},"fill":{"field":"k","type":"nominal","scale":{"domain":["b","u"],"range":["#a3a3a3","#f7c8c8"]},"legend":null}}},
  {"data":{"values":[{}]},"mark":{"type":"text","text":"**","fontSize":30,"fontWeight":"bold","align":"center","baseline":"alphabetic"},"encoding":{"x":{"datum":1.22,"type":"quantitative"},"y":{"datum":-50.8,"type":"quantitative"}}},
  {"data":{"values":[{}]},"mark":{"type":"text","text":"**","fontSize":30,"fontWeight":"bold","align":"center","baseline":"alphabetic"},"encoding":{"x":{"datum":2.185,"type":"quantitative"},"y":{"datum":-54.7,"type":"quantitative"}}}
 ]}
]
}
